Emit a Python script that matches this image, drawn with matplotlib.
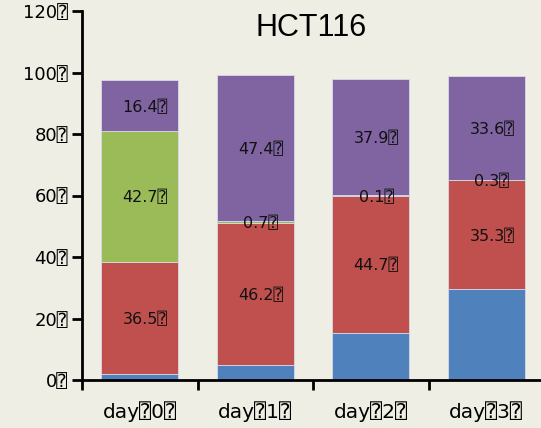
import numpy as np
import matplotlib.pyplot as plt

# Data (percent of cells per phase)
days = ["day⍰0⍰", "day⍰1⍰", "day⍰2⍰", "day⍰3⍰"]
blue_vals = [1.8, 4.8, 15.2, 29.6]
red_vals = [36.5, 46.2, 44.7, 35.3]
green_vals = [42.7, 0.7, 0.1, 0.3]
purple_vals = [16.4, 47.4, 37.9, 33.6]
y_ticks = [0, 20, 40, 60, 80, 100, 120]

bg = "#EEEEE4"
colors = ["#4F81BD", "#C0504D", "#9BBB59", "#8064A2"]
box = "⍰"

plt.rcParams['font.family'] = ['DejaVu Sans', 'DejaVu Sans Mono']

fig = plt.figure(figsize=(5.41, 4.28), dpi=100, facecolor=bg)
ax = fig.add_axes([82 / 541, 48 / 428, 462 / 541, 369 / 428], facecolor=bg)

x = np.arange(len(days))
width = 0.67
bottom = np.zeros(len(days))
series = [blue_vals, red_vals, green_vals, purple_vals]
for i, (vals, c) in enumerate(zip(series, colors)):
    vals = np.array(vals)
    ax.bar(x, vals, width, bottom=bottom, color=c, edgecolor="#D8D8E8", linewidth=0.6)
    if i > 0:
        for xi, b, v in zip(x, bottom, vals):
            ax.annotate(f"{v:.1f}{box}", (xi, b + v / 2), xytext=(4, -1),
                        textcoords="offset points", ha="center", va="center",
                        fontsize=11.5, color="#111111")
    bottom += vals

ax.set_xlim(-0.5, 3.5)
ax.set_ylim(0, 120)
ax.set_yticks(y_ticks)
ax.set_yticklabels([f"{t}{box}" for t in y_ticks], fontsize=13)

# category boundaries as major ticks, labels on minor ticks
ax.set_xticks(np.arange(-0.5, 3.6, 1.0))
ax.set_xticklabels([])
ax.set_xticks(x, minor=True)
ax.set_xticklabels(days, minor=True, fontsize=14.5)
ax.tick_params(axis="x", which="minor", length=0, pad=15)
ax.tick_params(axis="x", which="major", direction="out", length=7, width=2)
ax.tick_params(axis="y", direction="out", length=7, width=2, pad=3)

for s in ["top", "right"]:
    ax.spines[s].set_visible(False)
for s in ["left", "bottom"]:
    ax.spines[s].set_linewidth(2)

ax.text(0.495, 0.955, "HCT116", transform=ax.transAxes, ha="center", va="center",
        fontsize=22, family="Liberation Sans")

fig.savefig("out.png", dpi=100, facecolor=bg)
